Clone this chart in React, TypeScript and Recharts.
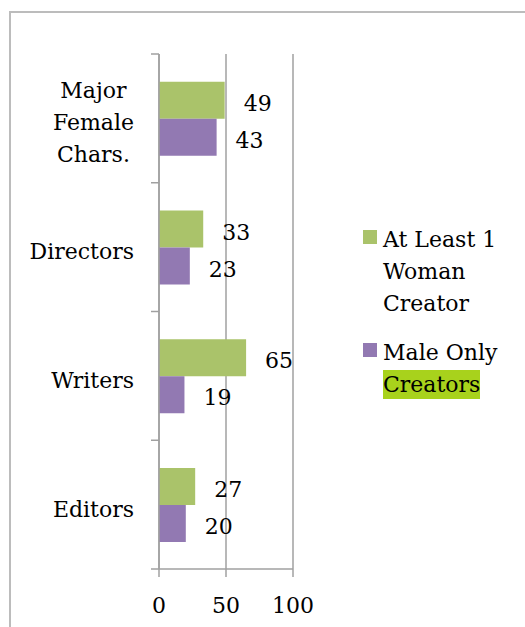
import React from "react";
import { BarChart, Bar, XAxis, YAxis, CartesianGrid, Legend, LabelList } from "recharts";

// values
const categories = ["Major Female Chars.", "Directors", "Writers", "Editors"];
const atLeastOneWoman = [49, 33, 65, 27];
const maleOnly = [43, 23, 19, 20];
const xTicks = [0, 50, 100];
const seriesNames = ["At Least 1 Woman Creator", "Male Only Creators"];
const highlightedWord = "Creators";

const data = categories.map((name, i) => ({
  name,
  woman: atLeastOneWoman[i],
  male: maleOnly[i],
}));

const W = 525;
const H = 627;
const PLOT_TOP = 54;
const PLOT_BOTTOM = 569;
const PLOT_LEFT = 159;
const PLOT_RIGHT = 293;
const TICK_SIZE = 8;
const TICK_MARGIN = 17;
const BAND = (PLOT_BOTTOM - PLOT_TOP) / categories.length;

const FONT = '"DejaVu Serif", serif';
const FONT_SIZE = 22;
const LINE = 32;
const GREEN = "#aac36a";
const PURPLE = "#9279b2";
const AXIS = "#a0a0a0";

let ctx: CanvasRenderingContext2D | null = null;
const textWidth = (s: string) => {
  if (!ctx) ctx = document.createElement("canvas").getContext("2d");
  ctx!.font = `${FONT_SIZE}px ${FONT}`;
  return ctx!.measureText(s).width;
};

const wrap = (label: string, max: number) => {
  const lines: string[] = [];
  let cur = "";
  for (const w of label.split(" ")) {
    const next = cur ? cur + " " + w : w;
    if (cur && textWidth(next) > max) {
      lines.push(cur);
      cur = w;
    } else cur = next;
  }
  if (cur) lines.push(cur);
  return lines;
};

const CategoryTick = ({ x, y, payload, index }: any) => {
  const lines = wrap(String(payload.value), 115);
  const widest = Math.max(...lines.map(textWidth));
  const axisX = x + TICK_MARGIN + TICK_SIZE;
  const top = y - BAND / 2;
  return (
    <g>
      <line x1={axisX - TICK_SIZE} x2={axisX} y1={top} y2={top} stroke={AXIS} strokeWidth={1.5} />
      {index === categories.length - 1 && (
        <line x1={axisX - TICK_SIZE} x2={axisX} y1={top + BAND} y2={top + BAND} stroke={AXIS} strokeWidth={1.5} />
      )}
      {lines.map((line, i) => (
        <text
          key={i}
          x={x - widest / 2}
          y={y + 12 + (i - (lines.length - 1) / 2) * LINE}
          textAnchor="middle"
          fontFamily={FONT}
          fontSize={FONT_SIZE}
          fill="#000"
        >
          {line}
        </text>
      ))}
    </g>
  );
};

const ValueLabel = (p: any) => {
  const vb = p.viewBox || p;
  return (
    <text
      x={vb.x + vb.width + 19}
      y={vb.y + vb.height / 2 + 10.5}
      fontFamily={FONT}
      fontSize={FONT_SIZE}
      fill="#000"
    >
      {p.value}
    </text>
  );
};

const LegendContent = ({ payload }: any) => (
  <div style={{ fontFamily: FONT, fontSize: FONT_SIZE, lineHeight: `${LINE}px`, color: "#000" }}>
    {(payload || []).map((entry: any, i: number) => {
      const words = String(entry.value).split(" ");
      return (
        <div key={i} style={{ display: "flex", alignItems: "flex-start", marginBottom: 17 }}>
          <div style={{ width: 14, height: 14, marginTop: 6, marginRight: 6, background: entry.color, flexShrink: 0 }} />
          <div style={{ width: 122 }}>
            {words.map((w, j) => (
              <React.Fragment key={j}>
                {j > 0 ? " " : ""}
                <span
                  style={
                    i === 1 && w === highlightedWord
                      ? { background: "#a8d21c", paddingTop: 2, paddingBottom: 2 }
                      : undefined
                  }
                >
                  {w}
                </span>
              </React.Fragment>
            ))}
          </div>
        </div>
      );
    })}
  </div>
);

export default function App() {
  return (
    <div style={{ position: "absolute", left: 0, top: 0, width: W, height: H, overflow: "hidden", background: "#fff" }}>
      <div
        style={{
          position: "absolute",
          left: 9,
          top: 11,
          width: W,
          height: H,
          border: "2px solid #bcbcbc",
          boxSizing: "border-box",
        }}
      />
      <div style={{ position: "absolute", left: 0, top: 0 }}>
        <BarChart
          width={W}
          height={H}
          data={data}
          layout="vertical"
          barCategoryGap="21.6%"
          barGap={0}
          margin={{ top: PLOT_TOP, right: W - PLOT_RIGHT, bottom: 8, left: 0 }}
        >
          <CartesianGrid vertical horizontal={false} stroke={AXIS} strokeWidth={1.5} />
          <XAxis
            type="number"
            domain={[0, 100]}
            ticks={xTicks}
            height={H - PLOT_BOTTOM - 8}
            tickSize={TICK_SIZE}
            tickMargin={20}
            axisLine={{ stroke: AXIS, strokeWidth: 1.5 }}
            tickLine={{ stroke: AXIS, strokeWidth: 1.5 }}
            tick={{ fill: "#000", fontSize: FONT_SIZE, fontFamily: FONT }}
          />
          <YAxis
            type="category"
            dataKey="name"
            width={PLOT_LEFT}
            interval={0}
            tickSize={TICK_SIZE}
            tickMargin={TICK_MARGIN}
            axisLine={{ stroke: AXIS, strokeWidth: 1.5 }}
            tickLine={false}
            tick={<CategoryTick />}
          />
          <Legend
            layout="horizontal"
            verticalAlign="middle"
            align="center"
            content={<LegendContent />}
            wrapperStyle={{ position: "absolute", left: 363, top: 224, width: 150 }}
          />
          <Bar dataKey="woman" name={seriesNames[0]} fill={GREEN} isAnimationActive={false}>
            <LabelList dataKey="woman" content={ValueLabel} />
          </Bar>
          <Bar dataKey="male" name={seriesNames[1]} fill={PURPLE} isAnimationActive={false}>
            <LabelList dataKey="male" content={ValueLabel} />
          </Bar>
        </BarChart>
      </div>
    </div>
  );
}
